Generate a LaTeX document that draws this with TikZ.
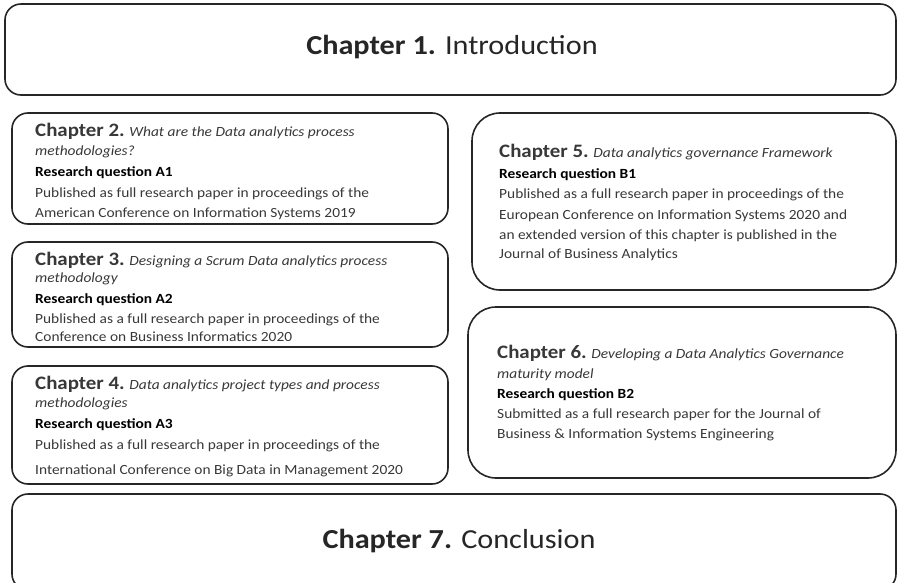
\documentclass[tikz,border=0pt]{standalone}
\usepackage{fontspec}
\setmainfont[FakeStretch=1.1]{Carlito}
\newcommand{\chead}[1]{{\fontsize{19}{20}\selectfont\bfseries #1}}
\newcommand{\rquest}[1]{{\color{black}\bfseries #1}}
\begin{document}
\begin{tikzpicture}[x=1pt, y=-1pt, chapter node/.style={rectangle,draw=black!85,line width=1.6pt,rounded corners=16pt,inner sep=0pt}, big node/.style={chapter node,rounded corners=28pt}]%
\useasboundingbox (0,0) rectangle (897,583);
\clip (0,0) rectangle (897,583);
\begin{scope}
\node[chapter node, minimum width=891pt, minimum height=91pt] (c1) at (450.5,49.5) {};
\node[chapter node, minimum width=436pt, minimum height=111pt] (c2) at (230,168.5) {};
\node[chapter node, minimum width=436pt, minimum height=105pt] (c3) at (230,294.5) {};
\node[chapter node, minimum width=436pt, minimum height=118pt] (c4) at (230,425) {};
\node[big node, minimum width=424pt, minimum height=177pt] (c5) at (684,201.5) {};
\node[big node, minimum width=428pt, minimum height=171pt] (c6) at (682,392.5) {};
\node[chapter node, minimum width=884pt, minimum height=96pt] (c7) at (454,542) {};
\end{scope}
\begin{scope}[every node/.style={inner sep=0pt, anchor=north west, align=left, text=black!78, font=\fontsize{14}{20}\selectfont}]
\node (t2) at (35,123) {\chead{Chapter 2.} \textit{What are the Data analytics process}\\[-1pt] \textit{methodologies?}\\[1pt] \rquest{Research question A1}\\[1pt] Published as full research paper in proceedings of the\\ American Conference on Information Systems 2019};
\node (t3) at (35,252) {\chead{Chapter 3.} \textit{Designing a Scrum Data analytics process}\\[-3pt] \textit{methodology}\\[1pt] \rquest{Research question A2}\\ Published as a full research paper in proceedings of the\\[-2pt] Conference on Business Informatics 2020};
\node (t4) at (35,376) {\chead{Chapter 4.} \textit{Data analytics project types and process}\\[-2pt] \textit{methodologies}\\[1pt] \rquest{Research question A3}\\[1pt] Published as a full research paper in proceedings of the\\[5pt] International Conference on Big Data in Management 2020};
\node (t5) at (499,144) {\chead{Chapter 5.} \textit{Data analytics governance Framework}\\[1pt] \rquest{Research question B1}\\ Published as a full research paper in proceedings of the\\[1pt] European Conference on Information Systems 2020 and\\ an extended version of this chapter is published in the\\[-1pt] Journal of Business Analytics};
\node (t6) at (497,345) {\chead{Chapter 6.} \textit{Developing a Data Analytics Governance}\\ \textit{maturity model}\\ \rquest{Research question B2}\\ Submitted as a full research paper for the Journal of\\ Business \& Information Systems Engineering};
\end{scope}
\begin{scope}[every node/.style={inner sep=0pt, anchor=base, text=black!85, font=\fontsize{27.5}{30}\selectfont}]
\node (t1) at (452,55) {\textbf{Chapter 1.} Introduction};
\node (t7) at (459,548) {\textbf{Chapter 7.} Conclusion};
\end{scope}
\end{tikzpicture}
\end{document}
